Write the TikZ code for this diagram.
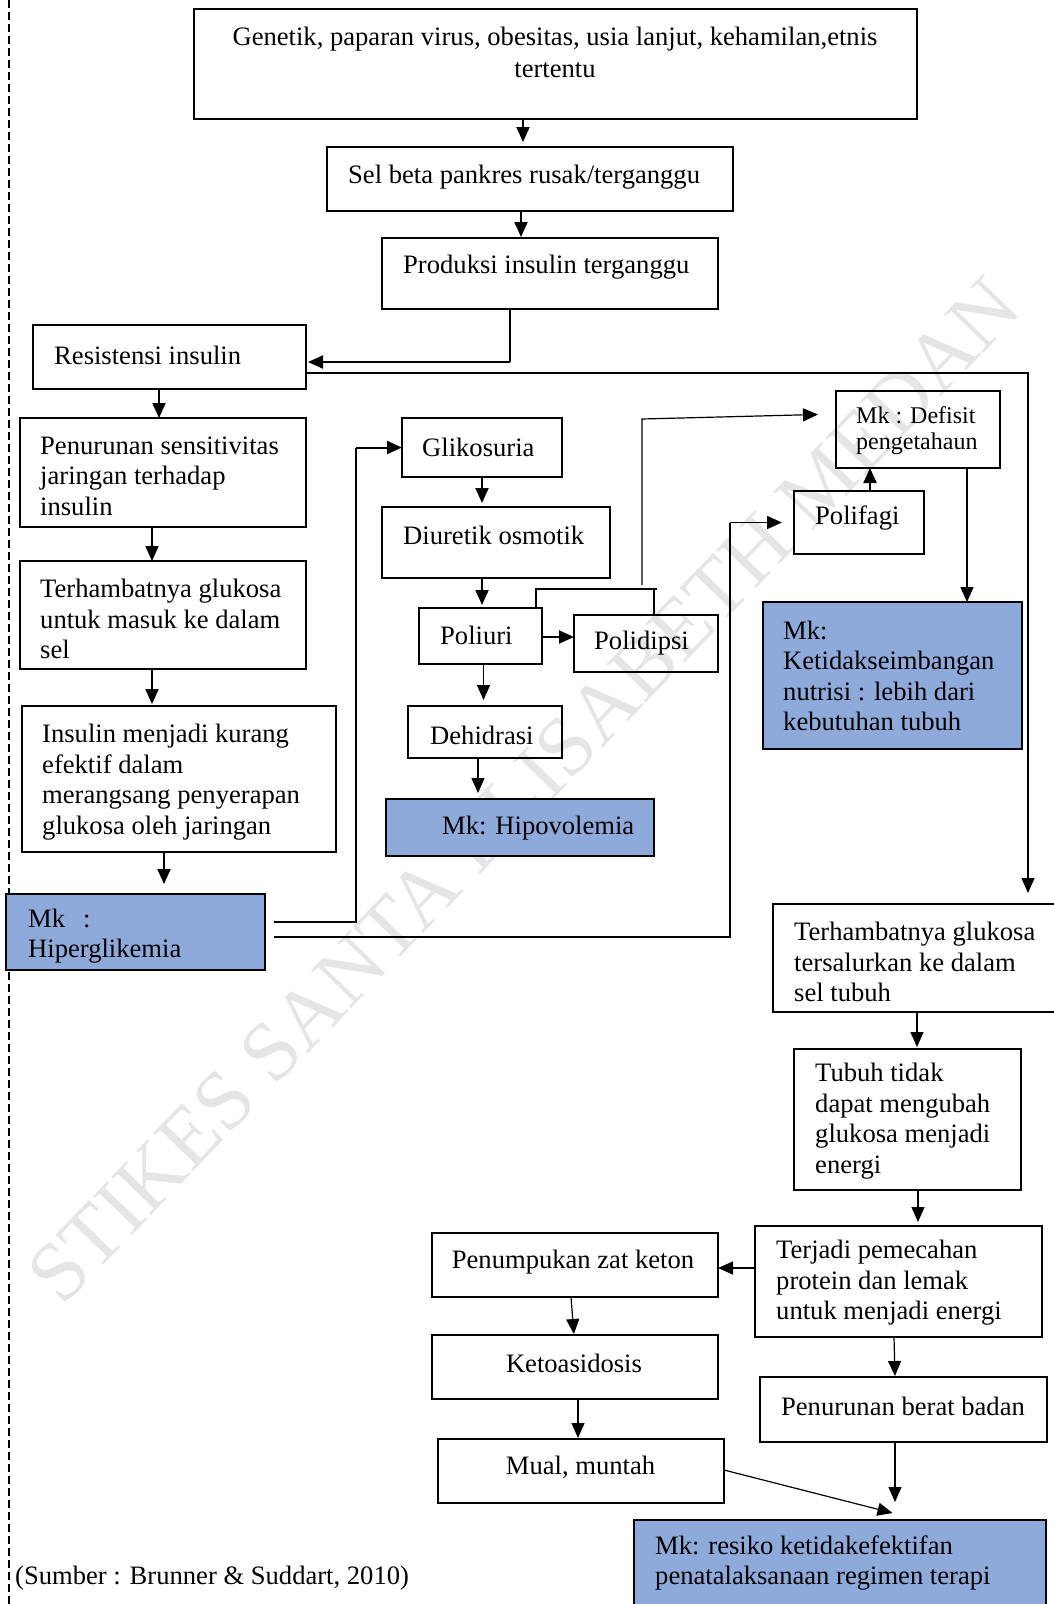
\documentclass[tikz,border=0pt]{standalone}
\usepackage{fontspec}
\setmainfont{Liberation Serif}
\usetikzlibrary{arrows.meta,calc}
\definecolor{mkblue}{HTML}{8EAADB}
\newcommand\Bx[6]{\node[bx,#6,minimum width={#4-#2},minimum height={#5-#3}] (#1) at ({(#2+#4)/2},{(#3+#5)/2}) {};}
\newcommand\Tx[5]{\node[tx,#5] (#1) at (#2,#3) {#4};}
\begin{document}
\begin{tikzpicture}[x=1pt,y=-1pt,
  bx/.style={draw=black,line width=1.8pt,inner sep=0pt,outer sep=0pt,rectangle},
  mk/.style={fill=mkblue},
  tx/.style={inner sep=0pt,font=\fontsize{26.6}{30.5}\selectfont,align=left,anchor=west},
  arr/.style={-{Triangle[length=15pt,width=13pt]}},
  thk/.style={line width=2pt},
  thn/.style={line width=1.2pt},
  wm/.style={inner sep=0pt,text=black!10,font=\fontsize{84}{90}\selectfont,rotate=46}]
\useasboundingbox (0,0) rectangle (1054,1604);
% watermark
\node[wm] (wm) at (524,790) {STIKES SANTA ELISABETH MEDAN};
% left dashed rule
\coordinate (d1) at (9,0);
\coordinate (d2) at (9,1604);
\draw[line width=1.3pt,dash pattern=on 8pt off 4pt] (d1) -- (d2);
% boxes
\Bx{n1}{194}{9}{917}{119}{}
\Bx{n2}{327}{147}{733}{211}{}
\Bx{n3}{382}{238}{718}{309}{}
\Bx{n4}{33}{325}{306}{389}{}
\Bx{n5}{20}{418}{306}{527}{}
\Bx{n6}{20}{561}{306}{669}{}
\Bx{n7}{22}{706}{336}{852}{}
\Bx{n8}{6}{894}{265}{970}{mk}
\Bx{n9}{402}{418}{562}{477}{}
\Bx{n10}{382}{507}{610}{578}{}
\Bx{n11}{419}{608}{542}{664}{}
\Bx{n12}{574}{615}{718}{672}{}
\Bx{n13}{408}{706}{562}{758}{}
\Bx{n14}{386}{799}{654}{856}{mk}
\Bx{n15}{836}{391}{1000}{468}{line width=2.8pt}
\Bx{n16}{794}{491}{924}{554}{}
\Bx{n17}{763}{602}{1022}{749}{mk}
\Bx{n18}{773}{904}{1058}{1012}{}
\Bx{n19}{794}{1049}{1021}{1190}{}
\Bx{n20}{755}{1226}{1042}{1337}{}
\Bx{n21}{432}{1233}{718}{1297}{}
\Bx{n22}{432}{1335}{718}{1399}{}
\Bx{n23}{438}{1439}{724}{1503}{}
\Bx{n24}{760}{1377}{1047}{1442}{}
\Bx{n25}{634}{1520}{1046}{1612}{mk}
% texts
\Tx{t1}{555}{52}{Genetik, paparan virus, obesitas, usia lanjut, kehamilan,etnis\\tertentu}{anchor=center,align=center,font=\fontsize{26.6}{32}\selectfont}
\Tx{t2}{348}{177}{Sel beta pankres rusak/terganggu}{}
\Tx{t3}{403}{267}{Produksi insulin terganggu}{}
\Tx{t4}{54}{355}{Resistensi insulin}{}
\Tx{t5}{40}{476}{Penurunan sensitivitas\\jaringan terhadap\\insulin}{}
\Tx{t6}{40}{619}{Terhambatnya glukosa\\untuk masuk ke dalam\\sel}{}
\Tx{t7}{42}{782}{Insulin menjadi kurang\\efektif dalam\\merangsang penyerapan\\glukosa oleh jaringan}{}
\Tx{t8}{28}{936}{Mk\hspace{18pt}:\\Hiperglikemia}{}
\Tx{t9}{422}{447}{Glikosuria}{}
\Tx{t10}{403}{535}{Diuretik osmotik}{}
\Tx{t11}{440}{635}{Poliuri}{}
\Tx{t12}{594}{643}{Polidipsi}{}
\Tx{t13}{430}{735}{Dehidrasi}{}
\Tx{t14}{442}{828}{Mk: Hipovolemia}{}
\Tx{t15}{856}{431}{Mk : Defisit\\pengetahaun}{font=\fontsize{24}{26}\selectfont}
\Tx{t16}{815}{518}{Polifagi}{}
\Tx{t17}{783}{676}{Mk:\\Ketidakseimbangan\\nutrisi : lebih dari\\kebutuhan tubuh}{}
\Tx{t18}{794}{962}{Terhambatnya glukosa\\tersalurkan ke dalam\\sel tubuh}{}
\Tx{t19}{815}{1121}{Tubuh tidak\\dapat mengubah\\glukosa menjadi\\energi}{}
\Tx{t20}{776}{1283}{Terjadi pemecahan\\protein dan lemak\\untuk menjadi energi}{}
\Tx{t21}{573}{1262}{Penumpukan zat keton}{anchor=center}
\Tx{t22}{574}{1363}{Ketoasidosis}{anchor=center}
\Tx{t23}{580.5}{1467}{Mual, muntah}{anchor=center}
\Tx{t24}{903}{1406}{Penurunan berat badan}{anchor=center}
\Tx{t25}{655}{1563}{Mk: resiko ketidakefektifan\\penatalaksanaan regimen terapi}{}
\Tx{t26}{15}{1578}{(Sumber : Brunner \& Suddart, 2010)}{}
% connectors
\draw[thk,arr,shorten >=5pt] (n1.south -| 523,0) -- (n2.north -| 523,0);
\draw[thk,arr,shorten >=1pt] (n2.south -| 521,0) -- (n3.north -| 521,0);
\coordinate (c1) at (510,362);
\draw[thn] (n3.south -| c1) -- (c1);
\draw[thk,arr,shorten >=2pt] (c1) -- (n4.east |- c1);
\coordinate (c2) at (1028,373);
\draw[thn,arr,shorten >=11pt] (n4.east |- c2) -- (c2) -- (n18.north -| c2);
\draw[thk,arr] (n4.south -| 159,0) -- (n5.north -| 159,0);
\draw[thk,arr] (n5.south -| 152,0) -- (n6.north -| 152,0);
\draw[thk,arr,shorten >=2pt] (n6.south -| 152,0) -- (n7.north -| 152,0);
\draw[thk,arr,shorten >=10pt] (n7.south -| 164,0) -- (n8.north -| 164,0);
\coordinate (c3) at (356,922);
\draw[thn,shorten <=9pt] (n8.east |- c3) -- (c3) -- (c3 |- n9.west);
\draw[thk,arr] (c3 |- n9.west) -- (n9.west);
\coordinate (c4) at (730,937);
\draw[thn,shorten <=9pt] (n8.east |- c4) -- (c4) -- (c4 |- n16.west);
\draw[line width=1.6pt,arr,shorten >=12pt] (c4 |- n16.west) -- (n16.west);
\draw[thk,arr,shorten >=4pt] (n9.south -| 482,0) -- (n10.north -| 482,0);
\draw[thk,arr,shorten >=3pt] (n10.south -| 482,0) -- (n11.north -| 482,0);
\draw[thk,arr] (n11.east |- 0,637) -- (n12.west |- 0,637);
\coordinate (c5) at (536,589);
\coordinate (c6) at (654,589);
\coordinate (c6b) at (657,589);
\draw[thn] (n11.north -| c5) -- (c5) -- (c6b);
\draw[thn] (c6) -- (n12.north -| c6);
\coordinate (c7) at (642,585);
\coordinate (c7b) at (642,419);
\draw[thn,arr,shorten >=18pt] (c7) -- (c7b) -- (n15.west |- 0,414);
\draw[thn,arr,shorten >=6pt] (n11.south -| 483.5,0) -- (n13.north -| 483.5,0);
\draw[thn,arr,shorten >=6pt] (n13.south -| 478,0) -- (n14.north -| 478,0);
\draw[thk,arr] (n16.north -| 870,0) -- (n15.south -| 870,0);
\draw[thn,arr] (n15.south -| 967,0) -- (n17.north -| 967,0);
\draw[thn,arr,shorten >=2pt] (n18.south -| 917,0) -- (n19.north -| 917,0);
\draw[thn,arr,shorten >=4pt] (n19.south -| 918,0) -- (n20.north -| 918,0);
\draw[thn,arr] (n20.west |- 0,1268) -- (n21.east |- 0,1268);
\draw[thn,arr,shorten >=1pt] (n21.south -| 571,0) -- (n22.north -| 574,0);
\draw[thn,arr,shorten >=1pt] (n22.south -| 578,0) -- (n23.north -| 578,0);
\draw[thn,arr,shorten >=1pt] (n20.south -| 894,0) -- (n24.north -| 895,0);
\draw[thn,arr,shorten >=18pt] (n24.south -| 895,0) -- (n25.north -| 895,0);
\coordinate (c8) at (892.5,1513);
\draw[thn,arr] (n23.east |- 0,1470) -- (c8);
\end{tikzpicture}
\end{document}
